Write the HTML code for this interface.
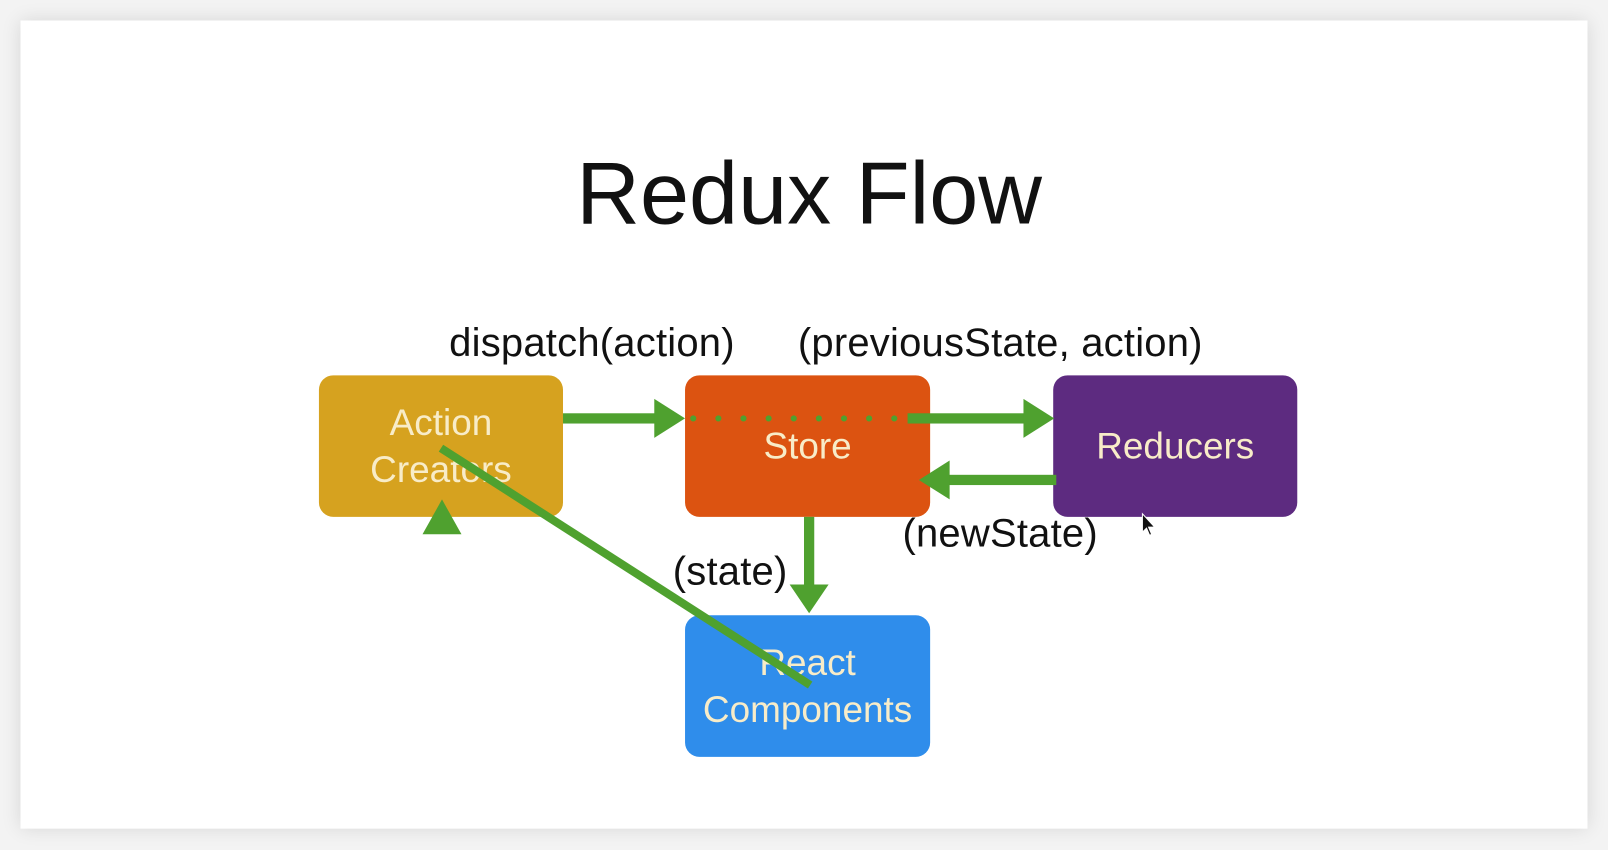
<!DOCTYPE html>
<html><head><style>
body{margin:0;width:1608px;height:850px;background:#f3f3f3;overflow:hidden;font-family:"Liberation Sans",sans-serif}
#w{position:absolute;left:0;top:0;width:1568px;height:829px;transform:scale(1.02551);transform-origin:0 0}
.card{position:absolute;left:20px;top:20px;width:1528px;height:788px;background:#fff;box-shadow:0 0 18px rgba(0,0,0,0.12)}
.t{position:absolute;white-space:nowrap;color:#111}
.box{position:absolute;border-radius:14px;color:#f8ecc8;font-size:36px;display:flex;align-items:center;justify-content:center;text-align:center;line-height:46px}
</style></head><body><div id="w">
<div class="card"></div>
<div class="t" style="left:0;width:1578px;text-align:center;top:140px;font-size:86px">Redux Flow</div>
<div class="t" style="left:438px;top:313px;font-size:39px;letter-spacing:0.2px">dispatch(action)</div>
<div class="t" style="left:778px;top:313px;font-size:39px;letter-spacing:0.2px">(previousState, action)</div>
<div class="t" style="left:880px;top:499px;font-size:39px;letter-spacing:0.2px">(newState)</div>
<div class="t" style="left:656px;top:536px;font-size:39px;letter-spacing:0.2px">(state)</div>
<div class="box" style="left:311px;top:366px;width:238px;height:138px;background:#d6a21f">Action<br>Creators</div>
<div class="box" style="left:668px;top:366px;width:239px;height:138px;background:#dc5311">Store</div>
<div class="box" style="left:1027px;top:366px;width:238px;height:138px;background:#5d2b80">Reducers</div>
<div class="box" style="left:668px;top:600px;width:239px;height:138px;background:#2f8deb">React<br>Components</div>
<svg width="1568" height="829" style="position:absolute;left:0;top:0">
<g fill="#4fa12f" stroke="none">
<rect x="549" y="403" width="92" height="10"/>
<polygon points="638,389 668,408 638,427"/>
<rect x="885" y="403" width="117" height="10"/>
<polygon points="998,389 1028,408 998,427"/>
<rect x="922" y="463" width="108" height="10"/>
<polygon points="926,449 896,468 926,487"/>
<rect x="784" y="504" width="10" height="68"/>
<polygon points="770,570 808,570 789,598"/>
<polygon points="412,521 450,521 431,487"/>
</g>
<line x1="676" y1="408" x2="880" y2="408" stroke="#4fa12f" stroke-width="6" stroke-dasharray="0 24.5" stroke-linecap="round"/>
<line x1="430" y1="437" x2="790" y2="668" stroke="#4fa12f" stroke-width="8"/>
<polygon points="1114,501 1114,519 1118,515 1121,522 1123,521 1120,514 1126,514" fill="#111" stroke="#fff" stroke-width="1"/>
</svg>
</div></body></html>
